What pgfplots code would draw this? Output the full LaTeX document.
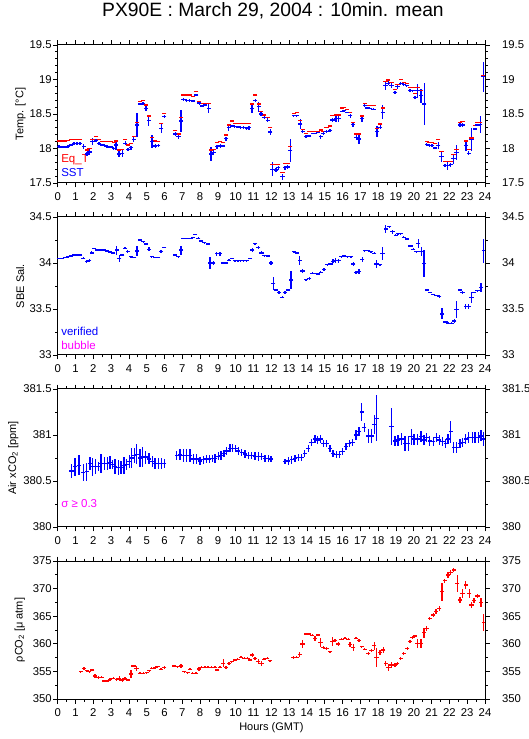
\documentclass[border=0pt]{standalone}
\usepackage{fontspec}
\setmainfont{Liberation Sans}
\usepackage{pgfplots}
\usepackage{pgfplotstable}
\pgfplotsset{compat=1.18}
\definecolor{pblue}{RGB}{0,0,255}
\definecolor{pred}{RGB}{255,0,0}
\definecolor{pmag}{RGB}{255,0,255}

\pgfplotstableread{
h v e
0.08 18.03 0.02
0.25 18.02 0.02
0.42 18.02 0.02
0.58 18.03 0.02
0.75 18.05 0.02
0.92 18.07 0.02
1.08 18.075 0.02
1.25 18.07 0.02
1.46 18.03 0.04
1.65 17.92 0.03
1.79 17.95 0.04
1.96 18.10 0.05
2.15 18.12 0.02
2.32 18.07 0.02
2.49 18.05 0.02
2.62 18.04 0.02
2.77 18.03 0.02
2.96 18.02 0.02
3.14 18.00 0.02
3.27 18.05 0.07
3.44 17.92 0.04
3.63 17.93 0.05
3.80 18.075 0.03
3.95 17.99 0.02
4.12 18.01 0.03
4.27 18.13 0.04
4.45 18.34 0.18
4.60 18.645 0.02
4.79 18.655 0.02
4.96 18.58 0.03
5.11 18.41 0.08
5.30 18.10 0.1
5.48 18.036 0.03
5.65 18.046 0.02
5.82 18.29 0.07
5.99 18.46 0.02
6.61 18.21 0.03
6.79 18.17 0.03
6.92 18.40 0.16
7.07 18.713 0.02
7.24 18.70 0.02
7.41 18.70 0.02
7.60 18.69 0.02
7.78 18.775 0.02
7.95 18.66 0.03
8.10 18.616 0.02
8.29 18.63 0.02
8.48 18.58 0.07
8.61 17.92 0.1
8.76 17.94 0.04
8.94 18.027 0.03
9.13 18.036 0.03
9.28 18.036 0.02
9.45 18.14 0.03
9.60 18.30 0.04
9.77 18.326 0.02
9.94 18.316 0.02
10.11 18.31 0.02
10.28 18.30 0.02
10.45 18.30 0.02
10.62 18.29 0.02
10.75 18.30 0.03
10.91 18.58 0.07
11.10 18.70 0.02
11.29 18.606 0.07
11.42 18.50 0.03
11.60 18.45 0.02
11.79 18.41 0.03
11.94 18.24 0.04
12.07 17.70 0.1
12.26 17.69 0.03
12.39 17.72 0.03
12.63 17.59 0.04
12.76 17.72 0.03
12.91 17.73 0.03
13.06 17.97 0.17
13.25 18.475 0.01
13.42 18.475 0.01
13.62 18.355 0.07
13.76 18.25 0.02
13.94 18.17 0.02
14.13 18.18 0.02
14.32 18.22 0.01
14.47 18.22 0.01
14.60 18.235 0.01
14.78 18.17 0.03
14.92 18.22 0.03
15.10 18.25 0.02
15.29 18.26 0.02
15.44 18.413 0.03
15.63 18.43 0.04
15.78 18.43 0.04
15.95 18.54 0.01
16.09 18.548 0.01
16.24 18.524 0.01
16.43 18.475 0.03
16.58 18.345 0.03
16.77 18.16 0.04
16.92 18.138 0.07
17.09 18.43 0.05
17.25 18.62 0.02
17.40 18.587 0.01
17.55 18.58 0.01
17.74 18.57 0.01
17.93 18.25 0.08
18.12 18.307 0.03
18.25 18.524 0.1
18.41 18.91 0.06
18.57 18.945 0.03
18.75 18.91 0.04
18.94 18.81 0.02
19.09 18.896 0.03
19.26 18.945 0.02
19.43 18.925 0.02
19.61 18.91 0.01
19.78 18.838 0.02
19.93 18.838 0.01
20.06 18.74 0.02
20.21 18.838 0.1
20.40 18.766 0.1
20.59 18.645 0.3
20.72 18.06 0.02
20.87 18.04 0.02
21.02 18.04 0.02
21.20 18.007 0.02
21.37 18.04 0.05
21.56 17.88 0.07
21.75 17.75 0.02
21.90 17.75 0.06
22.08 17.766 0.03
22.23 17.85 0.07
22.40 17.94 0.11
22.59 18.34 0.03
22.74 18.34 0.03
22.93 18.04 0.07
23.08 17.93 0.03
23.24 18.13 0.17
23.43 18.283 0.02
23.58 18.34 0.02
23.73 18.345 0.12
23.92 19.04 0.22
}\sst

\pgfplotstableread{
h v
0.08 18.11
0.25 18.11
0.42 18.11
0.58 18.115
0.75 18.13
0.92 18.13
1.08 18.13
1.25 18.13
1.65 17.98
1.79 18.00
1.96 18.13
2.15 18.17
2.32 18.13
2.49 18.10
2.62 18.10
2.77 18.10
2.96 18.10
3.14 18.085
3.27 18.11
3.44 17.98
3.63 17.99
3.80 18.13
3.95 18.05
4.12 18.07
4.27 18.17
4.45 18.38
4.60 18.68
4.79 18.70
4.96 18.63
5.11 18.47
5.30 18.16
5.48 18.11
5.65 18.105
5.82 18.365
5.99 18.51
6.61 18.26
6.79 18.21
6.92 18.45
7.07 18.775
7.24 18.775
7.41 18.775
7.60 18.75
7.78 18.83
7.95 18.68
8.10 18.655
8.29 18.655
8.48 18.655
8.61 17.98
8.76 17.99
8.94 18.085
9.13 18.10
9.28 18.085
9.45 18.195
9.60 18.34
9.77 18.40
9.94 18.365
10.11 18.365
10.28 18.365
10.45 18.365
10.62 18.365
10.75 18.365
10.91 18.645
11.10 18.775
11.29 18.645
11.42 18.535
11.60 18.485
11.79 18.45
11.94 18.30
12.07 17.77
12.26 17.77
12.39 17.77
12.63 17.655
12.76 17.785
12.91 17.785
13.06 18.03
13.25 18.51
13.42 18.525
13.62 18.41
13.76 18.28
13.94 18.22
14.13 18.25
14.32 18.25
14.47 18.25
14.60 18.25
14.78 18.27
14.92 18.25
15.10 18.30
15.29 18.325
15.44 18.475
15.63 18.485
15.78 18.485
15.95 18.587
16.09 18.597
16.24 18.568
16.43 18.524
16.58 18.375
16.77 18.21
16.92 18.21
17.09 18.47
17.25 18.655
17.40 18.62
17.55 18.62
17.74 18.62
17.93 18.29
18.12 18.355
18.25 18.587
18.41 18.973
18.57 18.993
18.75 18.96
18.94 18.86
19.09 18.925
19.26 18.998
19.43 18.96
19.61 18.945
19.78 18.886
19.93 18.886
20.06 18.80
20.21 18.886
20.40 18.838
20.59 18.655
20.72 18.104
20.87 18.085
21.02 18.085
21.20 18.075
21.37 18.128
21.56 17.96
21.75 17.809
21.90 17.809
22.08 17.809
22.23 17.91
22.40 17.99
22.59 18.38
22.74 18.39
22.93 18.11
23.08 17.99
23.24 18.15
23.43 18.335
23.58 18.38
23.73 18.38
23.92 19.05
}\eqt

\pgfplotstableread{
h v e
0.08 34.05 0.005
0.25 34.05 0.005
0.42 34.06 0.005
0.58 34.07 0.005
0.75 34.076 0.005
0.92 34.087 0.005
1.08 34.087 0.005
1.25 34.087 0.005
1.44 34.05 0.01
1.63 34.014 0.015
1.78 34.025 0.015
1.91 34.11 0.015
2.06 34.16 0.005
2.24 34.14 0.005
2.41 34.14 0.005
2.58 34.14 0.005
2.75 34.13 0.005
2.92 34.12 0.005
3.12 34.11 0.005
3.31 34.14 0.05
3.46 34.05 0.035
3.63 34.087 0.01
3.78 34.16 0.01
3.93 34.123 0.015
4.12 34.07 0.01
4.30 34.06 0.01
4.45 34.13 0.055
4.62 34.25 0.01
4.81 34.23 0.01
4.94 34.207 0.01
5.13 34.15 0.02
5.28 34.07 0.01
5.46 34.06 0.005
5.63 34.06 0.005
5.80 34.123 0.015
5.99 34.17 0.005
6.59 34.087 0.01
6.77 34.07 0.01
6.92 34.14 0.05
7.07 34.27 0.005
7.24 34.27 0.005
7.41 34.27 0.005
7.58 34.275 0.005
7.72 34.31 0.01
7.90 34.27 0.01
8.07 34.24 0.005
8.23 34.22 0.005
8.42 34.207 0.01
8.55 34.0 0.06
8.74 34.0 0.02
8.93 34.1 0.02
9.11 34.1 0.02
9.30 34.0 0.015
9.45 34.0 0.005
9.62 34.03 0.01
9.77 34.05 0.005
9.95 34.025 0.005
10.12 34.025 0.005
10.28 34.025 0.005
10.45 34.025 0.005
10.62 34.025 0.005
10.80 34.05 0.005
10.93 34.14 0.02
11.08 34.21 0.01
11.27 34.17 0.02
11.45 34.11 0.015
11.60 34.08 0.01
11.79 34.076 0.005
11.98 34.0 0.02
12.11 33.78 0.07
12.24 33.707 0.01
12.43 33.68 0.015
12.61 33.627 0.01
12.76 33.68 0.015
12.95 33.707 0.015
13.10 33.815 0.1
13.27 34.123 0.005
13.42 34.11 0.005
13.60 34.025 0.05
13.75 33.913 0.02
13.94 33.82 0.01
14.13 33.833 0.015
14.30 33.888 0.01
14.48 33.888 0.005
14.63 33.88 0.005
14.78 33.90 0.01
14.95 33.93 0.015
15.14 33.98 0.01
15.32 33.99 0.01
15.47 34.02 0.02
15.62 34.025 0.03
15.79 34.025 0.02
15.94 34.07 0.01
16.09 34.076 0.005
16.28 34.07 0.005
16.47 34.07 0.005
16.60 33.99 0.025
16.75 33.895 0.02
16.93 33.906 0.03
17.10 34.04 0.03
17.25 34.134 0.005
17.44 34.134 0.005
17.59 34.123 0.005
17.78 34.105 0.01
17.91 33.99 0.04
18.10 33.98 0.01
18.24 34.105 0.07
18.43 34.37 0.04
18.62 34.395 0.01
18.80 34.34 0.02
18.99 34.30 0.01
19.12 34.32 0.01
19.25 34.32 0.01
19.44 34.28 0.01
19.60 34.26 0.01
19.82 34.185 0.01
19.97 34.15 0.01
20.15 34.123 0.005
20.25 34.21 0.05
20.43 34.123 0.05
20.58 33.996 0.15
20.72 33.707 0.01
20.90 33.68 0.005
21.09 33.66 0.005
21.28 33.65 0.005
21.43 33.634 0.015
21.59 33.446 0.06
21.78 33.36 0.01
21.93 33.344 0.01
22.12 33.344 0.01
22.27 33.37 0.02
22.40 33.496 0.09
22.59 33.707 0.01
22.74 33.68 0.015
22.92 33.525 0.025
23.09 33.525 0.025
23.24 33.627 0.06
23.39 33.68 0.01
23.58 33.70 0.01
23.77 33.732 0.05
23.93 34.134 0.13
}\sal

\pgfplotstableread{
h v e
0.78 380.608 0.08
0.97 380.655 0.1
1.20 380.67 0.11
1.44 380.594 0.09
1.63 380.60 0.1
1.81 380.69 0.07
1.96 380.655 0.1
2.13 380.655 0.08
2.28 380.655 0.05
2.43 380.69 0.1
2.62 380.69 0.07
2.79 380.69 0.07
2.94 380.70 0.07
3.09 380.68 0.05
3.22 380.66 0.08
3.40 380.645 0.08
3.55 380.645 0.07
3.72 380.67 0.09
3.87 380.68 0.06
4.02 380.71 0.07
4.15 380.75 0.11
4.30 380.78 0.08
4.43 380.79 0.11
4.62 380.75 0.1
4.77 380.76 0.11
4.94 380.76 0.07
5.13 380.74 0.06
5.31 380.71 0.06
5.46 380.69 0.06
5.65 380.69 0.06
5.84 380.69 0.06
5.99 380.69 0.05
6.68 380.78 0.05
6.87 380.79 0.06
7.05 380.78 0.07
7.24 380.78 0.07
7.43 380.775 0.07
7.62 380.74 0.05
7.80 380.74 0.05
7.99 380.717 0.045
8.18 380.73 0.04
8.36 380.74 0.045
8.51 380.74 0.04
8.68 380.746 0.04
8.83 380.746 0.05
9.02 380.77 0.04
9.17 380.78 0.05
9.34 380.80 0.04
9.49 380.826 0.04
9.67 380.855 0.045
9.82 380.855 0.045
9.99 380.85 0.04
10.14 380.826 0.04
10.33 380.81 0.04
10.52 380.793 0.04
10.70 380.78 0.04
10.89 380.775 0.04
11.08 380.77 0.04
11.27 380.77 0.05
11.45 380.764 0.04
11.64 380.746 0.04
11.83 380.746 0.04
11.98 380.74 0.03
12.76 380.71 0.03
12.95 380.717 0.04
13.14 380.73 0.04
13.32 380.746 0.04
13.51 380.753 0.04
13.70 380.753 0.04
13.88 380.80 0.04
14.07 380.855 0.04
14.26 380.92 0.04
14.45 380.956 0.04
14.60 380.945 0.04
14.76 380.956 0.04
14.91 380.91 0.04
15.10 380.91 0.04
15.29 380.855 0.04
15.47 380.80 0.04
15.66 380.79 0.04
15.81 380.79 0.04
16.00 380.82 0.04
16.19 380.873 0.04
16.37 380.91 0.04
16.56 380.92 0.04
16.75 381.00 0.05
16.92 381.036 0.05
17.07 381.25 0.1
17.22 381.08 0.05
17.44 380.99 0.08
17.63 380.99 0.08
17.78 381.115 0.1
17.91 381.18 0.25
18.75 381.09 0.2
18.94 380.935 0.05
19.12 380.945 0.06
19.31 380.956 0.07
19.50 380.91 0.08
19.69 380.91 0.08
19.87 380.98 0.09
20.02 380.956 0.06
20.21 380.956 0.06
20.40 380.98 0.06
20.58 380.945 0.05
20.72 380.97 0.05
20.90 380.935 0.05
21.09 380.927 0.05
21.28 380.97 0.05
21.43 380.945 0.05
21.61 380.927 0.05
21.80 380.91 0.05
21.93 380.956 0.05
22.08 381.036 0.12
22.25 380.862 0.06
22.40 380.862 0.06
22.59 380.91 0.05
22.74 380.92 0.05
22.92 380.956 0.05
23.09 380.97 0.06
23.28 380.97 0.06
23.43 380.97 0.06
23.62 380.97 0.06
23.77 380.99 0.06
23.93 380.956 0.08
}\air

\pgfplotstableread{
h v e
1.29 354.95 0.2
1.48 355.55 0.3
1.63 355.13 0.2
1.78 354.95 0.2
1.94 355.25 0.2
2.09 354.16 0.4
2.28 353.92 0.3
2.47 353.92 0.2
2.62 353.26 0.2
2.79 353.26 0.2
2.94 353.56 0.3
3.12 353.74 0.2
3.31 353.56 0.3
3.46 353.74 0.4
3.63 353.44 0.4
3.78 353.74 0.3
3.93 353.44 0.2
4.12 354.53 0.7
4.26 355.97 0.2
4.43 355.55 0.5
4.62 354.65 0.2
4.81 354.65 0.2
5.00 354.77 0.2
5.14 355.13 0.2
5.28 355.55 0.2
5.46 355.67 0.2
5.61 355.85 0.2
5.80 355.37 0.2
5.99 355.73 0.3
6.55 355.97 0.2
6.74 355.85 0.2
6.92 355.97 0.4
7.11 354.95 0.2
7.30 354.77 0.2
7.43 355.37 0.2
7.58 354.65 0.2
7.76 354.65 0.2
7.93 355.43 0.3
8.08 355.73 0.2
8.27 355.73 0.2
8.45 355.73 0.2
8.64 355.73 0.2
8.83 355.73 0.2
8.96 355.25 0.2
9.11 355.73 0.2
9.30 356.46 0.7
9.45 355.73 0.3
9.62 356.46 0.3
9.77 356.76 0.2
9.95 357.06 0.2
10.10 357.18 0.2
10.29 357.55 0.2
10.48 357.36 0.2
10.67 357.36 0.2
10.80 357.06 0.2
10.93 357.97 0.4
11.08 357.36 0.3
11.27 356.76 0.4
11.45 356.46 0.4
11.58 357.18 0.2
11.77 357.36 0.2
11.92 356.94 0.2
13.23 357.55 0.3
13.42 357.55 0.2
13.60 358.09 0.4
13.75 359.96 0.7
13.94 361.77 0.2
14.13 361.77 0.2
14.30 361.53 0.2
14.45 360.99 0.4
14.60 361.59 0.2
14.76 360.20 0.8
14.91 359.35 0.3
15.10 359.18 0.3
15.29 358.57 0.2
15.44 360.38 0.8
15.57 360.56 0.3
15.76 359.96 0.3
15.94 360.81 0.2
16.13 360.99 0.2
16.32 360.81 0.2
16.41 359.90 0.4
16.60 359.35 0.6
16.75 360.99 0.2
16.92 360.56 0.3
17.07 359.48 0.2
17.25 358.99 0.2
17.44 358.27 0.3
17.63 358.75 0.3
17.78 359.66 0.7
17.91 357.55 1.7
18.10 358.39 0.4
18.28 358.87 0.6
18.43 356.46 0.4
18.58 355.73 0.7
18.75 356.15 0.5
18.94 356.15 0.4
19.07 356.46 0.3
19.26 357.36 0.3
19.44 358.27 0.3
19.63 359.18 0.3
19.78 360.38 0.3
19.93 361.11 0.3
20.06 361.41 0.2
20.21 360.08 0.8
20.40 360.08 0.8
20.57 362.01 0.9
20.72 362.80 0.5
20.90 364.61 0.3
21.09 365.21 0.3
21.24 365.82 0.4
21.43 366.42 0.5
21.59 369.44 1.6
21.74 371.43 0.4
21.93 372.46 0.5
22.08 372.88 0.4
22.25 373.37 0.4
22.44 370.95 1.6
22.59 367.93 0.5
22.74 369.14 0.8
22.92 370.65 0.7
23.11 369.14 0.8
23.24 367.03 0.5
23.39 367.81 0.4
23.58 368.66 0.4
23.77 367.45 0.8
23.93 363.83 1.5
}\pco

\pgfplotsset{
  panel/.style={
    scale only axis, width=427.3pt, height=138pt,
    xmin=0, xmax=24, xtick={0,1,...,24}, minor x tick num=1,
    tick align=outside, major tick length=4.5pt, minor tick length=2.5pt,
    axis line style={line width=1pt},
    every tick/.style={line width=0.8pt, black},
    tick label style={font=\fontsize{11.3}{12}\selectfont},
    xticklabel style={yshift=-2pt},
    yticklabel style={xshift=2pt},
    /pgf/number format/assume math mode=true,
    y label style={font=\fontsize{11}{12}\selectfont, anchor=center},
  },
  rpanel/.style={panel, axis y line*=right, axis x line=none, tick align=outside,
    yticklabel style={xshift=7pt}},
  datab/.style={only marks, mark=-, mark size=2.1pt, color=pblue,
    mark options={line width=1.3pt, solid},
    error bars/.cd, y dir=both, y explicit, error mark=none,
    error bar style={line width=1.3pt, color=pblue}},
  datar/.style={only marks, mark=-, mark size=2.1pt, color=pred,
    mark options={line width=1.3pt, solid},
    error bars/.cd, y dir=both, y explicit, error mark=none,
    error bar style={line width=1.3pt, color=pred}},
}

\begin{document}
\begin{tikzpicture}[x=1pt,y=1pt]
\path[use as bounding box] (0,0) rectangle (529,739);
\node[anchor=base, inner sep=0, font=\fontsize{19.3}{22}\selectfont] at (273,722.3) {PX90E : March 29, 2004 : 10min. mean};

% Panel 1
\begin{axis}[panel, at={(57.7pt,556pt)}, anchor=south west,
  ymin=17.5, ymax=19.5, ytick={17.5,18,...,19.5}, minor y tick num=4,
  ylabel={Temp. [°C]}, y label style={at={(axis description cs:-0.087,0.5)}}]
\addplot[only marks, mark=-, mark size=2.1pt, color=pred, mark options={line width=1.3pt, solid}] table[x=h,y=v] {\eqt};
\addplot[datab] table[x=h,y=v,y error=e] {\sst};
\node[anchor=base west, inner sep=0, text=pred, font=\fontsize{11.5}{12}\selectfont] at (axis description cs:0.008,0.145) {Eq\_T};
\node[anchor=base west, inner sep=0, text=pblue, font=\fontsize{11.5}{12}\selectfont] at (axis description cs:0.008,0.046) {SST};
\end{axis}
\begin{axis}[rpanel, at={(57.7pt,556pt)}, anchor=south west,
  ymin=17.5, ymax=19.5, ytick={17.5,18,...,19.5}, minor y tick num=4]
\end{axis}

% Panel 2
\begin{axis}[panel, at={(57.7pt,384pt)}, anchor=south west,
  ymin=33, ymax=34.5, ytick={33,33.5,34,34.5}, minor y tick num=1,
  ylabel={SBE Sal.}, y label style={at={(axis description cs:-0.088,0.5)}}]
\addplot[datab] table[x=h,y=v,y error=e] {\sal};
\node[anchor=base west, inner sep=0, text=pblue, font=\fontsize{11.5}{12}\selectfont] at (axis description cs:0.008,0.14) {verified};
\node[anchor=base west, inner sep=0, text=pmag, font=\fontsize{11.5}{12}\selectfont] at (axis description cs:0.008,0.043) {bubble};
\end{axis}
\begin{axis}[rpanel, at={(57.7pt,384pt)}, anchor=south west,
  ymin=33, ymax=34.5, ytick={33,33.5,34,34.5}, minor y tick num=1]
\end{axis}

% Panel 3
\begin{axis}[panel, at={(57.7pt,212pt)}, anchor=south west,
  ymin=380, ymax=381.5, ytick={380,380.5,381,381.5}, minor y tick num=1,
  ylabel={Air xCO\textsubscript{2} [ppm]}, y label style={at={(axis description cs:-0.104,0.5)}}]
\addplot[datab] table[x=h,y=v,y error=e] {\air};
\node[anchor=base west, inner sep=0, text=pmag, font=\fontsize{11.5}{12}\selectfont] at (axis description cs:0.008,0.14) {σ ≥ 0.3};
\end{axis}
\begin{axis}[rpanel, at={(57.7pt,212pt)}, anchor=south west,
  ymin=380, ymax=381.5, ytick={380,380.5,381,381.5}, minor y tick num=1]
\end{axis}

% Panel 4
\begin{axis}[panel, at={(57.7pt,40pt)}, anchor=south west,
  ymin=350, ymax=375, ytick={350,355,...,375}, minor y tick num=1,
  ylabel={ρCO\textsubscript{2} [μ atm]}, y label style={at={(axis description cs:-0.089,0.5)}},
  xlabel={Hours (GMT)}, x label style={font=\fontsize{11}{12}\selectfont, yshift=1pt}]
\addplot[datar] table[x=h,y=v,y error=e] {\pco};
\end{axis}
\begin{axis}[rpanel, at={(57.7pt,40pt)}, anchor=south west,
  ymin=350, ymax=375, ytick={350,355,...,375}, minor y tick num=1]
\end{axis}
\end{tikzpicture}
\end{document}
